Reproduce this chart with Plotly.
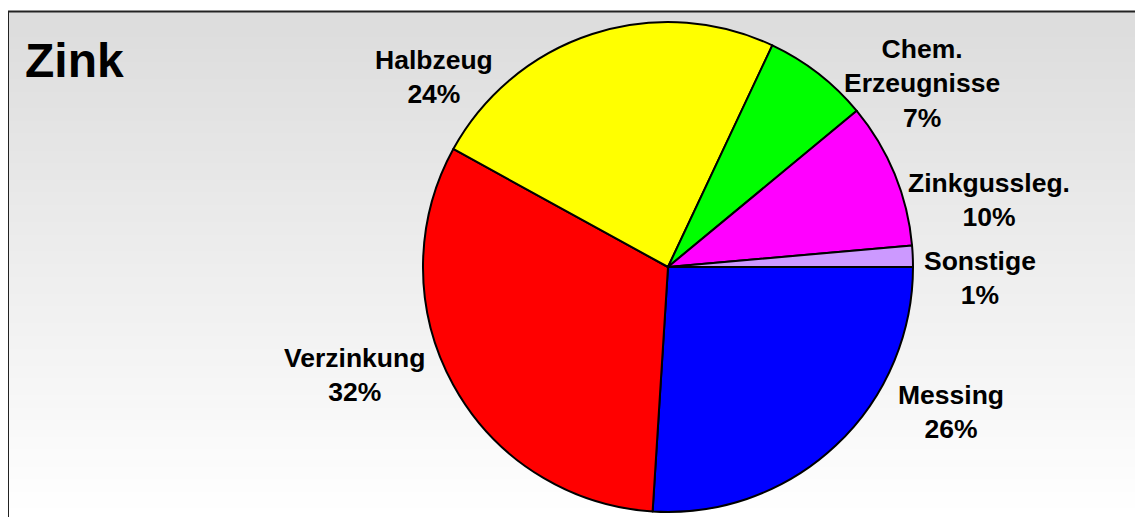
import plotly.graph_objects as go

# ---- data ----
labels = ["Messing", "Verzinkung", "Halbzeug", "Chem.<br>Erzeugnisse", "Zinkgussleg.", "Sonstige"]
values = [26, 32, 24, 7, 9.6, 1.4]
colors = ["#0000FF", "#FF0000", "#FFFF00", "#00FF00", "#FF00FF", "#CC99FF"]
title_text = "Zink"

W, H = 1143, 517
OX, OY = 8, 8  # page body margin offset


def px_x(x):
    return (x - OX) / W


def px_y(y):
    return 1 - (y - OY) / H


fig = go.Figure()
fig.add_trace(go.Pie(
    labels=labels, values=values, sort=False, direction="clockwise", rotation=90,
    marker=dict(colors=colors, line=dict(color="black", width=2)),
    textinfo="none", hoverinfo="label+percent", showlegend=False,
    domain=dict(x=[px_x(423), px_x(913)], y=[px_y(512), px_y(22)]),
))

# gradient background (overlapping stripes) + frame
shapes = []
top_px = 11.5
n = 120
for i in range(n):
    y0 = top_px + (H - top_px) * i / n
    y1 = top_px + (H - top_px) * (i + 1) / n + 1.5
    t = i / (n - 1)
    c = int(round(220 + 35 * t))
    shapes.append(dict(type="rect", xref="paper", yref="paper", layer="below",
                       x0=px_x(8), x1=1.02, y0=px_y(y1), y1=px_y(y0),
                       fillcolor=f"rgb({c},{c},{c})", line=dict(width=0)))
shapes.append(dict(type="rect", xref="paper", yref="paper", layer="below",
                   x0=px_x(8), x1=1.03, y0=-0.03, y1=px_y(top_px),
                   fillcolor="rgba(0,0,0,0)", line=dict(color="#222222", width=2)))

# label annotations (text built from the data)
total = sum(values)
label_pos = [(951, 412), (355, 375), (434, 77), (922, 83), (989, 200), (980, 278)]
annotations = []
for lab, v, (px, py) in zip(labels, values, label_pos):
    annotations.append(dict(
        x=px_x(px), y=px_y(py), xref="paper", yref="paper", showarrow=False,
        text=f"<b>{lab}<br>{round(100 * v / total):.0f}%</b>",
        font=dict(family="Liberation Sans, Arial, sans-serif", size=26.5, color="black"),
        xanchor="center", yanchor="middle", align="center"))
annotations.append(dict(
    x=px_x(23), y=px_y(60), xref="paper", yref="paper", showarrow=False,
    text=f"<b>{title_text}</b>", xanchor="left", yanchor="middle",
    font=dict(family="Liberation Sans, Arial, sans-serif", size=48, color="black")))

fig.update_layout(
    width=W, height=H, margin=dict(l=0, r=0, t=0, b=0),
    paper_bgcolor="white", plot_bgcolor="white",
    shapes=shapes, annotations=annotations,
)

fig.write_html("out.html")
